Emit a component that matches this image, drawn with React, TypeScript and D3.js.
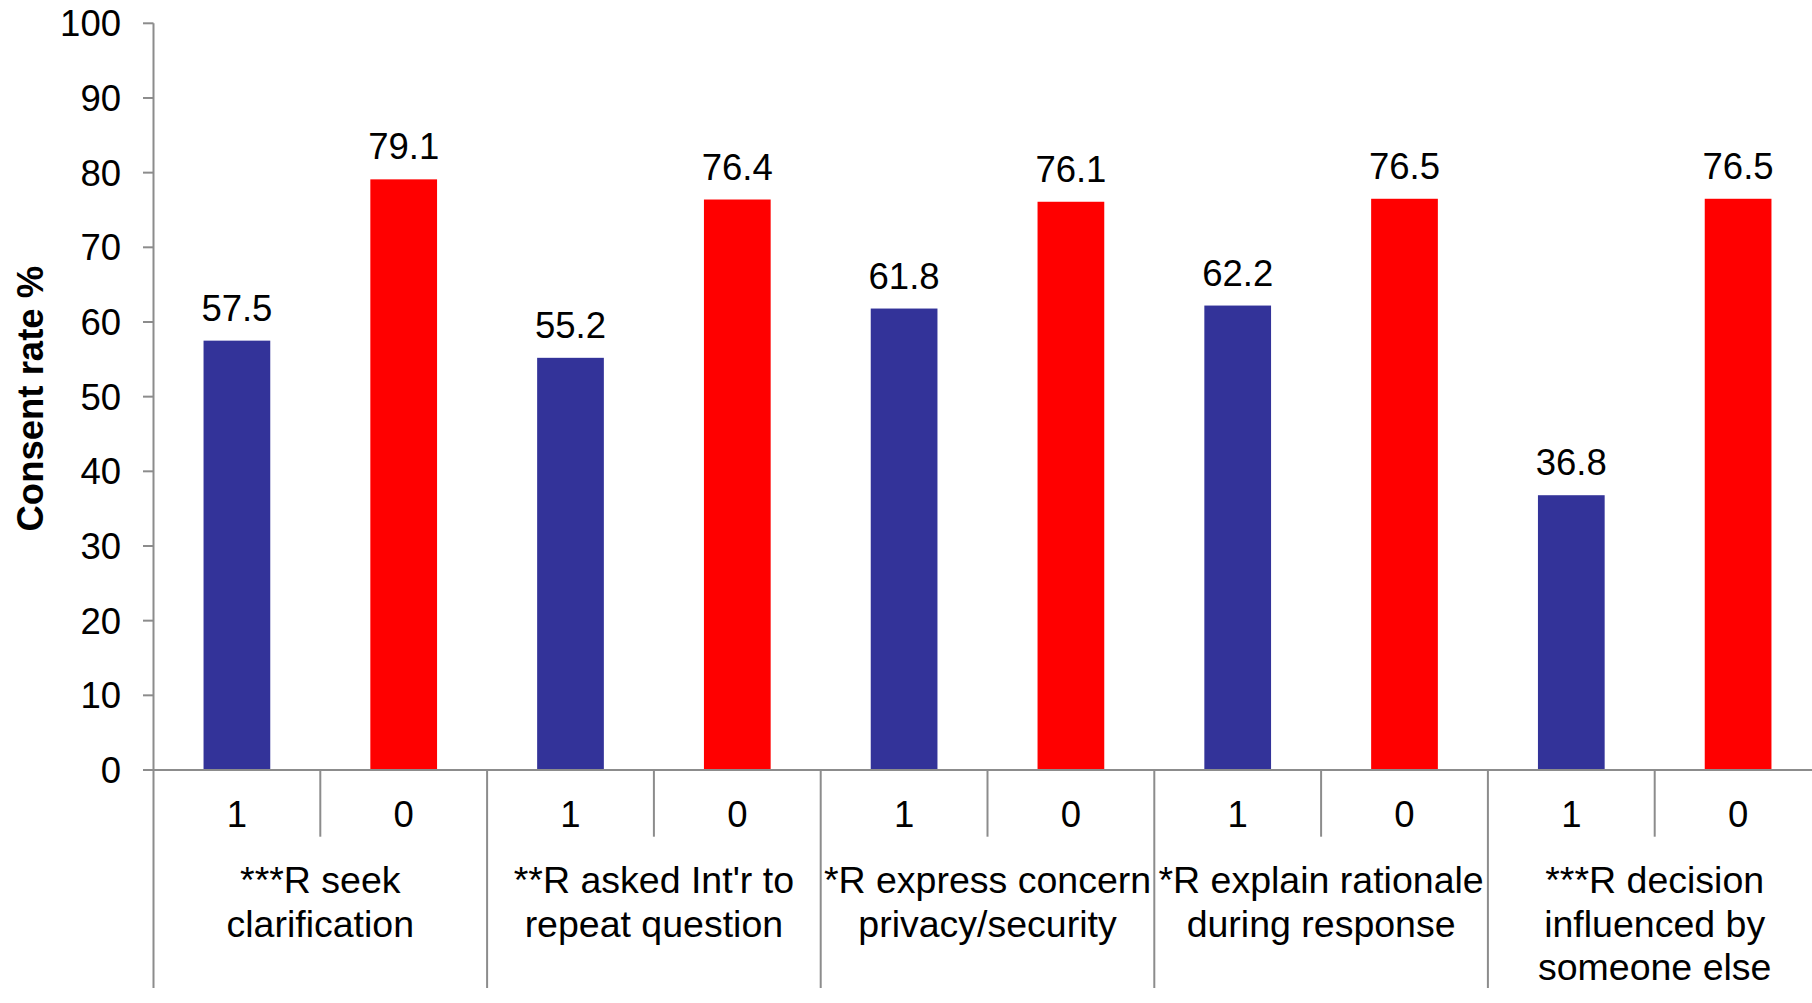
import React from "react";
import * as d3 from "d3";

// Survey behaviour groups (line breaks mark wrapped label lines)
const categories = [
  "***R seek\nclarification",
  "**R asked Int'r to\nrepeat question",
  "*R express concern\nprivacy/security",
  "*R explain rationale\nduring response",
  "***R decision\ninfluenced by\nsomeone else",
];
const subLabels = ["1", "0"];
const valuesYes = [57.5, 55.2, 61.8, 62.2, 36.8];
const valuesNo = [79.1, 76.4, 76.1, 76.5, 76.5];
const yTicks = [0, 10, 20, 30, 40, 50, 60, 70, 80, 90, 100];
const yTitle = "Consent rate %";

const W = 1812;
const H = 1003;
const FONT = "'Liberation Sans', Arial, Helvetica, sans-serif";
const AXIS = "#8c8c8c";
const COLORS = ["#333399", "#ff0000"];

export default function App() {
  const left = 153.5;
  const right = 1821.5;
  const top = 23.3;
  const bottom = 770;

  const y = d3.scaleLinear().domain([0, 100]).range([bottom, top]);
  const xGroup = d3
    .scaleBand<number>()
    .domain(d3.range(categories.length))
    .range([left, right])
    .padding(0);
  const xSub = d3
    .scaleBand<string>()
    .domain(subLabels)
    .range([0, xGroup.bandwidth()])
    .padding(0);
  const barW = xSub.bandwidth() * 0.4;

  const series = [valuesYes, valuesNo];
  const fmt = d3.format(".1f");

  return (
    <svg
      width={W}
      height={H}
      style={{ position: "absolute", left: 0, top: 0, background: "#fff" }}
      fontFamily={FONT}
    >
      {/* y axis */}
      <line x1={left} x2={left} y1={top} y2={988} stroke={AXIS} strokeWidth={2} />
      {yTicks.map((t) => (
        <g key={t}>
          <line x1={143} x2={left} y1={y(t)} y2={y(t)} stroke={AXIS} strokeWidth={2} />
          <text
            x={121}
            y={y(t)}
            dy="0.36em"
            textAnchor="end"
            fontSize={36.5}
            fill="#000"
          >
            {t}
          </text>
        </g>
      ))}
      <text
        transform={`translate(43, ${(top + bottom) / 2 + 2}) rotate(-90)`}
        textAnchor="middle"
        fontSize={36.5}
        fontWeight="bold"
        fill="#000"
      >
        {yTitle}
      </text>

      {/* bars and value labels */}
      {categories.map((c, gi) =>
        subLabels.map((s, si) => {
          const v = series[si][gi];
          const cx = (xGroup(gi) ?? 0) + (xSub(s) ?? 0) + xSub.bandwidth() / 2;
          return (
            <g key={`${gi}-${si}`}>
              <rect
                x={cx - barW / 2}
                y={y(v)}
                width={barW}
                height={y(0) - y(v)}
                fill={COLORS[si]}
              />
              <text
                x={cx}
                y={y(v) - 20}
                textAnchor="middle"
                fontSize={36.5}
                fill="#000"
              >
                {fmt(v)}
              </text>
            </g>
          );
        })
      )}

      {/* x axis line */}
      <line x1={left} x2={right} y1={bottom} y2={bottom} stroke={AXIS} strokeWidth={2} />

      {/* x axis: sub-category ticks and group separators */}
      {categories.map((c, gi) => {
        const gx = xGroup(gi) ?? 0;
        const mid = gx + xGroup.bandwidth() / 2;
        return (
          <g key={`ax-${gi}`}>
            <line x1={gx + xGroup.bandwidth()} x2={gx + xGroup.bandwidth()} y1={bottom} y2={988} stroke={AXIS} strokeWidth={2} />
            <line x1={mid} x2={mid} y1={bottom} y2={836.7} stroke={AXIS} strokeWidth={2} />
            {subLabels.map((s) => (
              <text
                key={s}
                x={gx + (xSub(s) ?? 0) + xSub.bandwidth() / 2}
                y={827}
                textAnchor="middle"
                fontSize={36.5}
                fill="#000"
              >
                {s}
              </text>
            ))}
            {c.split("\n").map((line, li) => (
              <text
                key={li}
                x={mid}
                y={893 + li * 43.5}
                textAnchor="middle"
                fontSize={37.5}
                fill="#000"
              >
                {line}
              </text>
            ))}
          </g>
        );
      })}
    </svg>
  );
}
